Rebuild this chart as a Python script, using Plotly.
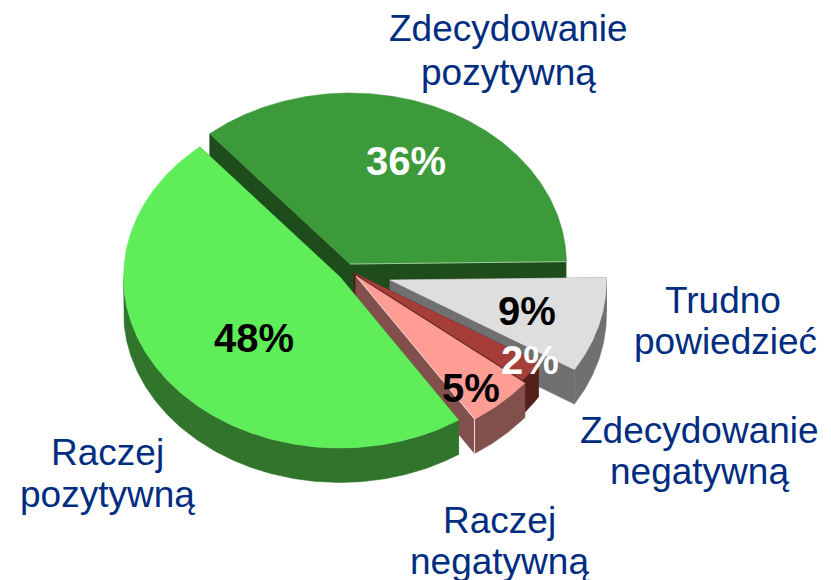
import math
import plotly.graph_objects as go

# --- data ---
categories = ["Zdecydowanie pozytywną", "Trudno powiedzieć", "Zdecydowanie negatywną",
              "Raczej negatywną", "Raczej pozytywną"]
values = [36, 9, 2, 5, 48]
value_colors = ["white", "black", "white", "black", "black"]
label_lines = [["Zdecydowanie", "pozytywną"], ["Trudno", "powiedzieć"],
               ["Zdecydowanie", "negatywną"], ["Raczej", "negatywną"], ["Raczej", "pozytywną"]]

# --- styling / projection of the tilted pie ---
top_colors = ["#3d9a3a", "#dedede", "#a53e38", "#ff9c94", "#5fee5a"]
wall_colors = ["#2a6e28", "#707070", "#55201b", "#82504c", "#31752d"]
cut_colors = ["#1e4d1b", "#707070", "#55201b", "#82504c", "#31752d"]
edge_colors = ["#9cc79a", None, None, "#f3dcd9", None]
apexes = [(350, 264), (390, 280), (354, 273), (356, 276), (340, 277)]
value_pos = [(406, 161), (527, 311), (530, 360), (471, 388), (254, 338)]
label_pos = [[(508, 28), (508, 72)], [(723, 300), (725, 341)], [(699, 430), (699, 471)],
             [(499, 520), (499, 561)], [(107, 452), (107, 494)]]
RX, RY, DEPTH, START = 216.5, 171, 34.5, -40.4
NAVY = "#002d80"


def rim(a, angle):
    t = math.radians(angle)
    return a[0] + RX * math.sin(t), a[1] - RY * math.cos(t)


def poly(fig, pts, color):
    xs = [p[0] for p in pts] + [pts[0][0]]
    ys = [p[1] for p in pts] + [pts[0][1]]
    fig.add_trace(go.Scatter(x=xs, y=ys, mode="lines", fill="toself", fillcolor=color,
                             line=dict(color=color, width=0.5), hoverinfo="skip", showlegend=False))


def edge(fig, pts, color, width):
    fig.add_trace(go.Scatter(x=[p[0] for p in pts], y=[p[1] for p in pts], mode="lines",
                             line=dict(color=color, width=width), hoverinfo="skip", showlegend=False))


fig = go.Figure()
total = sum(values)
angle = START
for i, v in enumerate(values):
    a0, a1 = angle, angle + 360 * v / total
    angle = a1
    a = apexes[i]
    n = max(2, int(a1 - a0) * 2)
    arc = [rim(a, a0 + (a1 - a0) * k / n) for k in range(n + 1)]
    low = lambda p: (p[0], p[1] + DEPTH)
    # cut faces
    poly(fig, [a, arc[0], low(arc[0]), low(a)], cut_colors[i])
    poly(fig, [a, arc[-1], low(arc[-1]), low(a)], cut_colors[i])
    # outer wall (front half only)
    front = [a0 + (a1 - a0) * k / n for k in range(n + 1)]
    front = [q for q in front if 90 <= q % 360 <= 270]
    if len(front) > 1:
        up = [rim(a, q) for q in front]
        poly(fig, up + [low(p) for p in reversed(up)], wall_colors[i])
    # top face
    poly(fig, [a] + arc, top_colors[i])
    # thin highlight along the lit edge
    if edge_colors[i]:
        edge(fig, [a, arc[-1], low(arc[-1])], edge_colors[i], 1)

annotations = []
for i, v in enumerate(values):
    annotations.append(dict(x=value_pos[i][0], y=value_pos[i][1], text=f"<b>{v}%</b>", showarrow=False,
                            xanchor="center", yanchor="middle",
                            font=dict(family="Liberation Sans", size=40, color=value_colors[i])))
    for line, pos in zip(label_lines[i], label_pos[i]):
        annotations.append(dict(x=pos[0], y=pos[1], text=line, showarrow=False,
                                xanchor="center", yanchor="middle",
                                font=dict(family="Liberation Sans", size=37, color=NAVY)))

fig.update_layout(width=831, height=580, margin=dict(l=0, r=0, t=0, b=0),
                  paper_bgcolor="white", plot_bgcolor="white", annotations=annotations,
                  xaxis=dict(range=[0, 831], visible=False, fixedrange=True),
                  yaxis=dict(range=[580, 0], visible=False, fixedrange=True))
fig.write_html("out.html", config={"displayModeBar": False},
               post_script="document.body.style.margin='0';document.body.style.overflow='hidden';")
